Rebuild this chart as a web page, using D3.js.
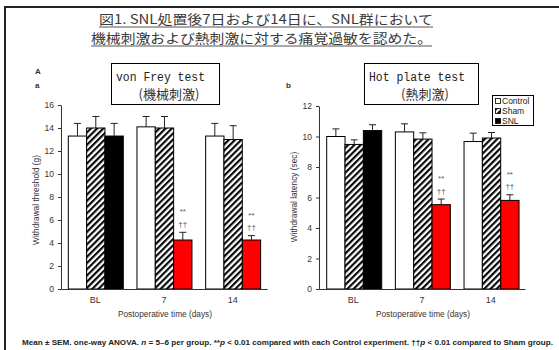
<!DOCTYPE html>
<html>
<head>
<meta charset="utf-8">
<script src="https://cdn.jsdelivr.net/npm/d3@7"></script>
<style>
  body { margin: 0; background: #fff; }
  svg { display: block; }
  text { font-family: "Liberation Sans", Arial, sans-serif; }
</style>
</head>
<body>
<svg id="chart" width="559" height="350"></svg>
<script>
const days = ['BL', '7', '14'];
const groups = ['Control', 'Sham', 'SNL'];

// von Frey test, withdrawal threshold (g)
const vfControl = [13.3, 14.1, 13.3];
const vfControlErr = [1.1, 0.9, 1.1];
const vfSham = [14.0, 14.0, 13.0];
const vfShamErr = [1.0, 1.0, 1.2];
const vfSNL = [13.3, 4.26, 4.26];
const vfSNLErr = [1.1, 0.67, 0.38];
const vfTicks = [0, 2, 4, 6, 8, 10, 12, 14, 16];

// hot plate test, withdrawal latency (sec)
const hpControl = [10.0, 10.3, 9.67];
const hpControlErr = [0.5, 0.53, 0.55];
const hpSham = [9.48, 9.83, 9.9];
const hpShamErr = [0.3, 0.41, 0.36];
const hpSNL = [10.39, 5.53, 5.81];
const hpSNLErr = [0.38, 0.37, 0.37];
const hpTicks = [0, 2, 4, 6, 8, 10, 12];

const ctrlMarks = ['', '**', '**'];
const shamMarks = ['', '††', '††'];

const svg = d3.select('#chart');

// hatch for Sham
const defs = svg.append('defs');
defs.append('pattern')
  .attr('id', 'hatch')
  .attr('patternUnits', 'userSpaceOnUse')
  .attr('width', 4.4).attr('height', 4.4)
  .attr('patternTransform', 'rotate(45)')
  .call(p => {
    p.append('rect').attr('width', 4.4).attr('height', 4.4).attr('fill', '#fff');
    p.append('line').attr('x1', 1.1).attr('y1', 0).attr('x2', 1.1).attr('y2', 4.4)
      .attr('stroke', '#000').attr('stroke-width', 2.1);
  });

// outer frame (only top and left edges are inside the picture)
svg.append('path')
  .attr('d', 'M5,350 V7 H559')
  .attr('fill', 'none').attr('stroke', '#222').attr('stroke-width', 2);

// heading
const heading = [
  { t: '図1. SNL処置後7日および14日に、SNL群において', x: 99, y: 23.5, w: 334 },
  { t: '機械刺激および熱刺激に対する痛覚過敏を認めた。', x: 91, y: 42.5, w: 341 }
];
heading.forEach(h => {
  svg.append('text')
    .attr('x', h.x).attr('y', h.y)
    .attr('textLength', h.w).attr('lengthAdjust', 'spacingAndGlyphs')
    .style('font-family', '"Noto Sans CJK JP", sans-serif')
    .style('font-size', '13px').attr('fill', '#3a3a3a')
    .text(h.t);
  svg.append('line')
    .attr('x1', h.x).attr('x2', h.x + h.w)
    .attr('y1', h.y + 3.5).attr('y2', h.y + 3.5)
    .attr('stroke', '#555').attr('stroke-width', 1);
});

function panel(opt) {
  const g = svg.append('g');
  const x0 = d3.scaleBand().domain(days).range([opt.left, opt.right]);
  const x1 = d3.scaleBand().domain(groups).range([opt.inset, opt.inset + 55]);
  const y = d3.scaleLinear().domain([0, opt.max]).range([289, opt.top]);

  const rows = [];
  days.forEach((d, i) => groups.forEach((s, k) => {
    rows.push({ day: d, grp: s, i, v: opt.vals[k][i], e: opt.errs[k][i] });
  }));

  const fill = r => r.grp === 'Control' ? '#fff'
    : r.grp === 'Sham' ? 'url(#hatch)'
    : (r.i === 0 ? '#000' : '#ff0000');

  g.selectAll('.bar').data(rows).enter().append('rect')
    .attr('class', 'bar')
    .attr('x', r => x0(r.day) + x1(r.grp))
    .attr('y', r => y(r.v))
    .attr('width', x1.bandwidth())
    .attr('height', r => y(0) - y(r.v))
    .attr('fill', fill)
    .attr('stroke', '#000').attr('stroke-width', 1);

  const cx = r => x0(r.day) + x1(r.grp) + x1.bandwidth() / 2;
  const err = g.selectAll('.err').data(rows).enter().append('g').attr('class', 'err');
  err.append('line')
    .attr('x1', cx).attr('x2', cx)
    .attr('y1', r => y(r.v)).attr('y2', r => y(r.v + r.e))
    .attr('stroke', '#222');
  err.append('line')
    .attr('x1', r => cx(r) - 3.5).attr('x2', r => cx(r) + 3.5)
    .attr('y1', r => y(r.v + r.e)).attr('y2', r => y(r.v + r.e))
    .attr('stroke', '#222');

  const snl = rows.filter(r => r.grp === 'SNL');
  g.selectAll('.m1').data(snl).enter().append('text')
    .attr('x', cx).attr('y', r => y(r.v + r.e) - 18)
    .attr('text-anchor', 'middle').style('font-size', '8px').attr('fill', '#555')
    .text(r => ctrlMarks[r.i]);
  g.selectAll('.m2').data(snl).enter().append('text')
    .attr('x', cx).attr('y', r => y(r.v + r.e) - 5.5)
    .attr('text-anchor', 'middle').style('font-size', '8px').attr('fill', '#555')
    .text(r => shamMarks[r.i]);

  // y axis
  const ya = g.append('g')
    .attr('transform', `translate(${opt.left},0)`)
    .call(d3.axisLeft(y).tickValues(opt.ticks).tickSize(3).tickSizeOuter(0).tickPadding(4));
  ya.select('.domain').attr('stroke', '#333');
  ya.selectAll('.tick line').attr('stroke', '#333');
  ya.selectAll('.tick text').style('font-size', '8.5px').attr('fill', '#333')
    .style('font-family', '"Liberation Sans", Arial, sans-serif');

  // x axis
  const xa = g.append('g')
    .attr('transform', 'translate(0,289)')
    .call(d3.axisBottom(x0).tickSize(0).tickPadding(8));
  xa.select('.domain').attr('stroke', '#333');
  xa.selectAll('.tick text').style('font-size', '9px').attr('fill', '#333')
    .style('font-family', '"Liberation Sans", Arial, sans-serif');

  g.append('text')
    .attr('x', (opt.left + opt.right) / 2 + 1).attr('y', 317)
    .attr('text-anchor', 'middle').style('font-size', '8.3px').attr('fill', '#333')
    .text('Postoperative time (days)');

  g.append('text')
    .attr('transform', `translate(${opt.ylabX},${opt.ylabY}) rotate(-90)`)
    .attr('text-anchor', 'middle').style('font-size', '8.3px').attr('fill', '#333')
    .text(opt.ylabel);

  // title box
  const b = opt.box;
  g.append('rect')
    .attr('x', b.x + 0.5).attr('y', 63.5).attr('width', b.w).attr('height', 41)
    .attr('fill', '#fff').attr('stroke', '#000');
  g.append('text')
    .attr('x', b.x + 5).attr('y', 81)
    .attr('textLength', b.tw).attr('lengthAdjust', 'spacingAndGlyphs')
    .style('font-family', '"Liberation Mono", monospace').style('font-size', '12px')
    .attr('fill', '#222').text(b.t1);
  g.append('text')
    .attr('x', b.x + b.w / 2 + 4).attr('y', 99)
    .attr('text-anchor', 'middle')
    .style('font-family', '"Noto Sans CJK JP", sans-serif').style('font-size', '13px')
    .attr('fill', '#333').text(b.t2);

  g.append('text')
    .attr('x', opt.letterX).attr('y', 88)
    .style('font-size', '8px').style('font-weight', 'bold').attr('fill', '#333')
    .text(opt.letter);
}

panel({
  left: 61, right: 267, inset: 7.3, top: 105, max: 16, ticks: vfTicks,
  vals: [vfControl, vfSham, vfSNL], errs: [vfControlErr, vfShamErr, vfSNLErr],
  ylabel: 'Withdrawal threshold (g)', ylabX: 39, ylabY: 200,
  box: { x: 111, w: 108, t1: 'von Frey test', t2: '(機械刺激)', tw: 89 },
  letter: 'a', letterX: 35
});

panel({
  left: 319, right: 525, inset: 7.7, top: 106, max: 12, ticks: hpTicks,
  vals: [hpControl, hpSham, hpSNL], errs: [hpControlErr, hpShamErr, hpSNLErr],
  ylabel: 'Withdrawal latency (sec)', ylabX: 297, ylabY: 197,
  box: { x: 364, w: 114, t1: 'Hot plate test', t2: '(熱刺激)', tw: 96 },
  letter: 'b', letterX: 286
});

svg.append('text')
  .attr('x', 35).attr('y', 74)
  .style('font-size', '8px').style('font-weight', 'bold').attr('fill', '#333')
  .text('A');

// legend
const lg = svg.append('g');
lg.append('rect').attr('x', 492.5).attr('y', 95.5).attr('width', 41).attr('height', 30)
  .attr('fill', '#fff').attr('stroke', '#000');
const legendFill = ['#fff', 'url(#hatch)', '#000'];
groups.forEach((s, k) => {
  const yy = 98 + k * 10;
  lg.append('rect').attr('x', 495.5).attr('y', yy + 0.5).attr('width', 5).attr('height', 5)
    .attr('fill', legendFill[k]).attr('stroke', '#000').attr('stroke-width', 0.8);
  lg.append('text').attr('x', 502).attr('y', yy + 6)
    .style('font-size', '8.5px').attr('fill', '#222').text(s);
});

// footnote
const foot = svg.append('text')
  .attr('x', 22).attr('y', 345)
  .attr('textLength', 531).attr('lengthAdjust', 'spacingAndGlyphs')
  .style('font-size', '7.5px').style('font-weight', 'bold').attr('fill', '#222');
[
  ['Mean ± SEM. one-way ANOVA. ', false],
  ['n', true],
  [' = 5–6 per group. **', false],
  ['p', true],
  [' < 0.01 compared with each Control experiment. ††', false],
  ['p', true],
  [' < 0.01 compared to Sham group.', false]
].forEach(([t, it]) => {
  foot.append('tspan').style('font-style', it ? 'italic' : 'normal').text(t);
});
</script>
</body>
</html>
